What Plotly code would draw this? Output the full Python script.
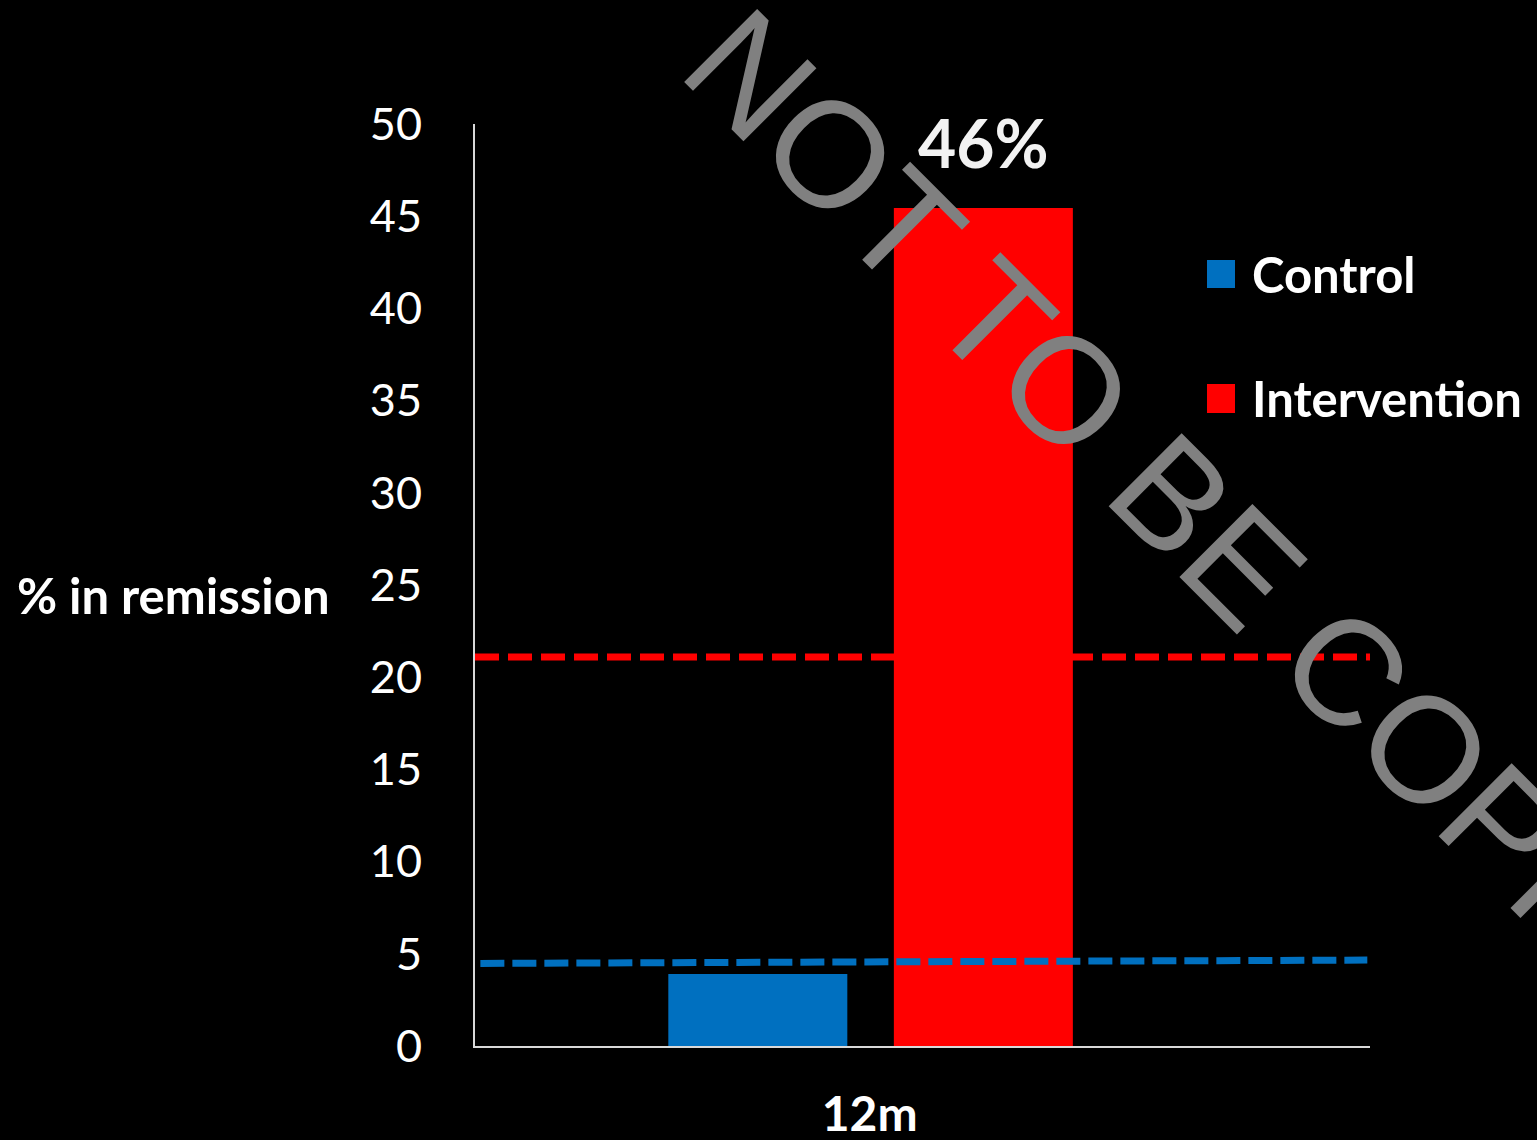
import plotly.graph_objects as go

# ---- data ----
categories = ["12m"]
series_names = ["Control", "Intervention"]
control_values = [3.9]
intervention_values = [45.45]
series_colors = ["#0070C0", "#FF0000"]
bar_label = "46%"
control_ref_line = [4.48, 4.66]      # dashed reference line (left, right)
intervention_ref_line = [21.1, 21.1]
y_ticks = list(range(0, 55, 5))
y_title = "% in remission"
watermark = "NOT TO BE COPIED"

W, H = 1537, 1140
ML, MR, MT, MB = 475, 167, 124, 94
PW, PH = W - ML - MR, H - MT - MB
FONT = "Lato"


def px_x(p):
    return (p - ML) / PW


def px_y(p):
    return (H - MB - p) / PH


fig = go.Figure()
fig.add_trace(go.Bar(x=categories, y=control_values, name=series_names[0],
                     marker=dict(color=series_colors[0], line=dict(width=0)),
                     offset=-0.225, width=0.2, showlegend=False))
fig.add_trace(go.Bar(x=categories, y=intervention_values, name=series_names[1],
                     marker=dict(color=series_colors[1], line=dict(width=0)),
                     offset=0.027, width=0.2, showlegend=False))

shapes = []
# dashed reference lines
shapes.append(dict(type="line", xref="paper", yref="y", x0=0, x1=1,
                   y0=intervention_ref_line[0], y1=intervention_ref_line[1],
                   line=dict(color=series_colors[1], width=7, dash="24px,9px"),
                   layer="above"))
shapes.append(dict(type="line", xref="paper", yref="y", x0=0.006, x1=0.997,
                   y0=control_ref_line[0], y1=control_ref_line[1],
                   line=dict(color=series_colors[0], width=7, dash="24px,8px"),
                   layer="above"))

# manual legend squares
legend_sq = [(1207, 260, 1235, 288), (1207, 384, 1235, 413)]
for (x0, y0, x1, y1), c in zip(legend_sq, series_colors):
    shapes.append(dict(type="rect", xref="paper", yref="paper",
                       x0=px_x(x0), x1=px_x(x1), y0=px_y(y1), y1=px_y(y0),
                       fillcolor=c, line=dict(width=0)))

annotations = []
legend_text_y = [274, 398]
for name, ty in zip(series_names, legend_text_y):
    annotations.append(dict(text="<b>%s</b>" % name, xref="paper", yref="paper",
                            x=px_x(1250), y=px_y(ty), xanchor="left", yanchor="middle",
                            showarrow=False, font=dict(family=FONT, size=49, color="#FFFFFF")))

annotations.append(dict(text="<b>%s</b>" % y_title, xref="paper", yref="paper",
                        x=px_x(173), y=px_y(595), xanchor="center", yanchor="middle",
                        showarrow=False, font=dict(family=FONT, size=49, color="#FFFFFF")))

annotations.append(dict(text="<b>%s</b>" % bar_label, xref="x", yref="y",
                        x=0.127, y=intervention_values[0], xanchor="center", yanchor="bottom",
                        yshift=24, showarrow=False,
                        font=dict(family=FONT, size=66, color="#F2F2F2")))

annotations.append(dict(text=watermark, xref="paper", yref="paper",
                        x=px_x(1213), y=px_y(537), xanchor="center", yanchor="middle",
                        textangle=45, showarrow=False,
                        font=dict(family="Liberation Sans", size=150, color="#808080")))

fig.update_layout(
    width=W, height=H,
    margin=dict(l=ML, r=MR, t=MT, b=MB, autoexpand=False),
    paper_bgcolor="#000000", plot_bgcolor="#000000",
    barmode="overlay",
    shapes=shapes, annotations=annotations,
    font=dict(family=FONT, color="#FFFFFF"),
    xaxis=dict(type="category", range=[-0.441, 0.559], showline=True,
               linecolor="#D9D9D9", linewidth=2, showgrid=False, zeroline=False,
               automargin=False,
               ticks="", tickfont=dict(family=FONT, size=48, color="#FFFFFF",
                                       weight="bold"),
               ticklabelstandoff=25),
    yaxis=dict(range=[0, 50], tickvals=y_ticks, showline=True,
               linecolor="#D9D9D9", linewidth=2, showgrid=False, zeroline=False,
               automargin=False,
               ticks="", tickfont=dict(family=FONT, size=45, color="#FFFFFF"),
               ticklabelstandoff=42),
)

fig.write_html(
    "out.html",
    config={"displayModeBar": False},
    post_script="document.body.style.margin='0';document.body.style.background='#000';",
)
